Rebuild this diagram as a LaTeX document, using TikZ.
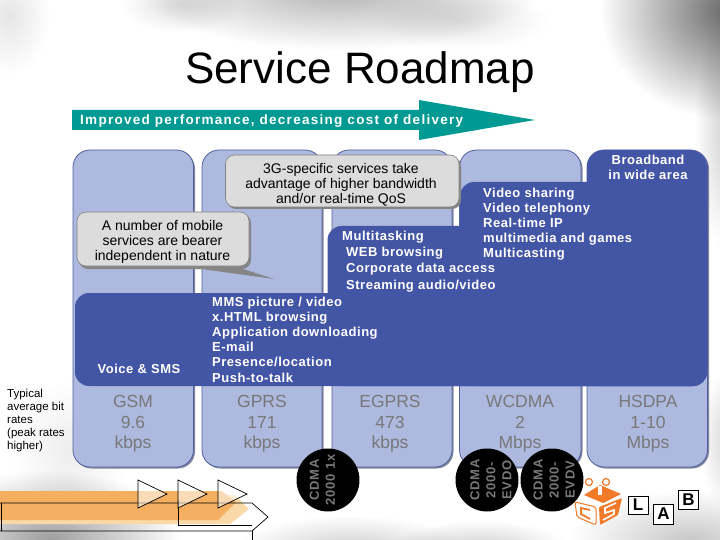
\documentclass[tikz,border=0pt]{standalone}
\usepackage{fontspec}
\setmainfont{Liberation Sans}
\usetikzlibrary{fadings}
\tikzfading[name=softblob, inner color=transparent!0, outer color=transparent!100]
\definecolor{colfill}{HTML}{ADB9DE}
\definecolor{coledge}{HTML}{525F9E}
\definecolor{colshadow}{HTML}{80869C}
\definecolor{darkblue}{HTML}{4355A5}
\definecolor{teal1}{HTML}{009A93}
\definecolor{callfill}{HTML}{DCDCDC}
\definecolor{callshadow}{HTML}{858585}
\definecolor{ratetext}{HTML}{787878}
\definecolor{orange1}{HTML}{F4B060}
\definecolor{orange2}{HTML}{FAD9A8}
\definecolor{logoor}{HTML}{F07A28}
\newfontface\spacedbold{Liberation Sans Bold}[LetterSpace=4]
\newfontface\spacedboldA{Liberation Sans Bold}[LetterSpace=9.5]
\newfontface\discbold{Liberation Sans Bold}[LetterSpace=6]
\newcommand{\cloud}[5]{\fill[black,opacity=#5,path fading=softblob] (#1,#2) ellipse [x radius=#3pt,y radius=#4pt];}
\newcommand{\column}[2]{%
  \fill[colshadow,rounded corners=17pt] (#1+1.5,150+1.5) rectangle (#2+1.5,467+1.5);
  \draw[coledge,fill=colfill,line width=.8pt,rounded corners=17pt] (#1,150) rectangle (#2,467);}
\tikzset{
  rate/.style={text=ratetext,font=\fontsize{17.5}{20.5}\selectfont,align=center,anchor=center},
  serv/.style={text=white,font=\spacedbold\fontsize{13}{15.2}\selectfont,align=left,anchor=north west,inner sep=0pt},
  call/.style={font=\fontsize{14}{15}\selectfont,align=center,inner sep=0pt,text=black},
  disc/.style={circle,fill=black,minimum size=63pt,inner sep=0pt},
  disctext/.style={rotate=90,inner sep=0pt,text=ratetext,align=center,font=\discbold\fontsize{13}{16}\selectfont},
  lettr/.style={draw=black,line width=.8pt,fill=white,inner sep=0pt,font=\bfseries\fontsize{17}{17}\selectfont},
  tri/.style={draw=black,line width=.7pt,fill=white,fill opacity=.55},
}
\begin{document}
\begin{tikzpicture}[x=1pt,y=-1pt]
\useasboundingbox (0,0) rectangle (720,540);
\fill[white] (0,0) rectangle (720,540);
% clouded backdrop
\cloud{340}{-10}{200}{60}{.30}
\cloud{180}{5}{60}{28}{.12}
\cloud{460}{20}{90}{30}{.10}
\cloud{730}{10}{130}{110}{.60}
\cloud{725}{130}{30}{120}{.18}
\cloud{10}{15}{40}{60}{.10}
\cloud{50}{540}{130}{70}{.38}
\cloud{70}{450}{60}{70}{.07}
\cloud{350}{555}{120}{40}{.22}
\cloud{480}{550}{90}{30}{.20}
\cloud{690}{540}{120}{50}{.22}
\cloud{725}{440}{25}{70}{.15}
% teal arrow
\fill[teal1] (72,110) -- (419,110) -- (419,100) -- (535,120) -- (419,140) -- (419,130) -- (72,130) -- cycle;
\node[text=white,anchor=west,inner sep=0pt,font=\spacedboldA\fontsize{13.5}{15}\selectfont] (arrowlabel) at (80,121) {Improved performance, decreasing cost of delivery};
% title
\node[font=\fontsize{44}{50}\selectfont,inner sep=0pt] (title) at (360,72) {Service Roadmap};
% columns
\column{73}{193.5}
\column{202}{322}
\column{332}{452}
\column{459.5}{581}
\column{587}{707.5}
% dark staircase
\fill[darkblue,rounded corners=14pt] (75,293) rectangle (707,386);
\fill[darkblue,rounded corners=14pt] (327.5,226) rectangle (707,386);
\fill[darkblue,rounded corners=14pt] (460,182) rectangle (707,386);
\fill[darkblue,rounded corners=17pt] (587,150) rectangle (707,386);
\fill[darkblue] (450,240) rectangle (600,386);
% callouts
\fill[callshadow,rounded corners=9pt] (227,157) rectangle (461,209);
\draw[gray,fill=callfill,line width=.6pt,rounded corners=9pt] (225.5,155) rectangle (459,207);
\node[call] (cq) at (341,185) {3G-specific services take\\advantage of higher bandwidth\\and/or real-time QoS};
\fill[callshadow,rounded corners=9pt] (79,214) rectangle (251,269);
\fill[callshadow] (180,266) -- (240,268) -- (274,279) -- cycle;
\draw[gray,fill=callfill,line width=.6pt,rounded corners=9pt] (77,212) rectangle (249,266);
\node[call] (cb) at (162.5,242) {A number of mobile\\services are bearer\\independent in nature};
% service lists
\node[serv] (broad) at (648,155) [anchor=north,align=center] {Broadband\\in wide area};
\node[serv] (video) at (483,187.5) {Video sharing\\Video telephony\\Real-time IP\\multimedia and games\\Multicasting};
\node[serv,font=\spacedbold\fontsize{13}{16.3}\selectfont] (multi) at (346,230.5) {\hspace*{-4pt}Multitasking\\WEB browsing\\Corporate data access\\Streaming audio/video};
\node[serv] (mms) at (212,296.5) {MMS picture / video\\x.HTML browsing\\Application downloading\\E-mail\\Presence/location\\Push-to-talk};
\node[serv,anchor=center] (voice) at (139,369) {Voice \& SMS};
% rates
\node[rate] (r1) at (133,424) {GSM\\9.6\\kbps};
\node[rate] (r2) at (262,424) {GPRS\\171\\kbps};
\node[rate] (r3) at (390,424) {EGPRS\\473\\kbps};
\node[rate] (r4) at (520,424) {WCDMA\\2\\Mbps};
\node[rate] (r5) at (648,424) {HSDPA\\1-10\\Mbps};
\node[anchor=north west,inner sep=0pt,align=left,font=\fontsize{11.5}{13}\selectfont] (typ) at (7,388.5) {Typical\\average bit\\rates\\(peak rates\\higher)};
% orange road
\fill[orange2] (0,495) -- (235,495) -- (249,509) -- (230,524) -- (0,524) -- cycle;
\fill[orange1] (0,491) -- (222,491) -- (236,502) -- (218,520) -- (0,520) -- cycle;
\draw[black,line width=.7pt] (0,503) -- (252,503) -- (268,517) -- (252,531) -- (0,531);
\draw[black,line width=.7pt] (252,531) -- (252,540);
\draw[black,line width=.7pt] (178,500) -- (178,525) -- (252,525);
\draw[black,line width=.7pt] (1,503) -- (1,531);
\draw[tri] (138,480) -- (167,494) -- (138,508) -- cycle;
\draw[tri] (178,480) -- (207,494) -- (178,508) -- cycle;
\draw[tri] (218,480) -- (247,494) -- (218,508) -- cycle;
% logo
\draw[logoor,line width=1.2pt] (589,482) circle (3.5pt);
\draw[logoor,line width=1.2pt] (606,482) circle (3.5pt);
\fill[logoor] (584,495) -- (600,485) -- (621,494) -- (603,503) -- cycle;
\fill[white] (598,486) rectangle (602,495);
\draw[logoor,line width=1pt,fill=white,rounded corners=2pt] (575,502) -- (596,507) -- (596,525) -- (577,517) -- cycle;
\draw[logoor,line width=1.8pt] (590,510) -- (581,508) -- (581,514) -- (590,519);
\fill[logoor,rounded corners=1pt] (599,507) -- (622,498) -- (618,515) -- (600,525) -- cycle;
\draw[white,line width=1.6pt] (616,503) -- (605,508) -- (605,513) -- (614,510) -- (614,514) -- (603,520);
% discs
\node[disc] (d1) at (328,480) {};
\node[disc] (d2) at (487,480) {};
\node[disc] (d3) at (552,480) {};
\node[disctext] (t1) at (322.5,480) {CDMA\\2000 1x};
\node[disctext] (t2) at (491,480) {CDMA\\2000-\\EVDO};
\node[disctext] (t3) at (554,480) {CDMA\\2000-\\EVDV};
% letters
\node[lettr,minimum width=20pt,minimum height=18pt] (L) at (638,505) {L};
\node[lettr,minimum width=20pt,minimum height=20pt] (A) at (663.5,514) {A};
\node[lettr,minimum width=20pt,minimum height=19pt] (B) at (688.5,499.5) {B};
\end{tikzpicture}
\end{document}
